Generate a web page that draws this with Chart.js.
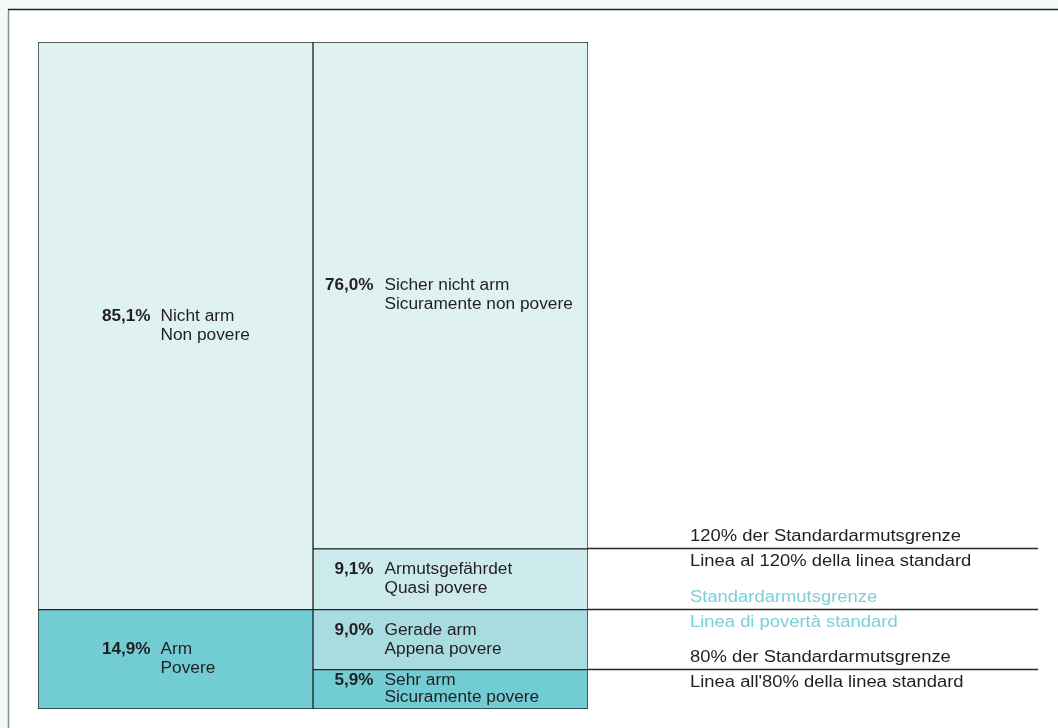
<!DOCTYPE html>
<html>
<head>
<meta charset="utf-8">
<script src="https://cdn.jsdelivr.net/npm/chart.js@4/dist/chart.umd.min.js"></script>
<style>
  html, body { margin: 0; padding: 0; background: #f3f9f9; }
  #wrap { width: 1058px; height: 728px; position: relative; }
</style>
</head>
<body>
<div id="wrap"><canvas id="poverty-chart"></canvas></div>
<script>
// columns: whole population split in two, then in four groups
const columns = ['Gesamt', 'Detail'];

const totalShares = [14.9, 85.1];
const totalLabelsDe = ['Arm', 'Nicht arm'];
const totalLabelsIt = ['Povere', 'Non povere'];

const detailShares = [5.9, 9.0, 9.1, 76.0];
const detailLabelsDe = ['Sehr arm', 'Gerade arm', 'Armutsgefährdet', 'Sicher nicht arm'];
const detailLabelsIt = ['Sicuramente povere', 'Appena povere', 'Quasi povere', 'Sicuramente non povere'];

const lineLabelsDe = ['80% der Standardarmutsgrenze', 'Standardarmutsgrenze', '120% der Standardarmutsgrenze'];
const lineLabelsIt = ["Linea all'80% della linea standard", 'Linea di povertà standard', 'Linea al 120% della linea standard'];

const totalColors = ['#72ccd4', '#dff1f1'];
const detailColors = ['#72ccd4', '#a8dce0', '#cceaec', '#dff1f1'];

const textColor = '#231f20';
const fontFamily = '"Liberation Sans", Arial, Helvetica, sans-serif';

function fmt(v) {
    return v.toFixed(1).replace('.', ',') + '%';
}

// text in the original is a bit wider than Arial, so stretch it sideways
function drawText(ctx, text, x, y, align, sx) {
    ctx.save();
    ctx.translate(x, y);
    ctx.scale(sx, 1);
    ctx.textAlign = align;
    ctx.fillText(text, 0, 0);
    ctx.restore();
}

// one dataset per segment so each block keeps its own label
const datasets = [];
totalShares.forEach((v, i) => {
    datasets.push({
        data: [v, null],
        backgroundColor: totalColors[i],
        de: totalLabelsDe[i],
        it: totalLabelsIt[i],
        lineGap: 19
    });
});
detailShares.forEach((v, i) => {
    datasets.push({
        data: [null, v],
        backgroundColor: detailColors[i],
        de: detailLabelsDe[i],
        it: detailLabelsIt[i],
        lineGap: i === 0 ? 17 : 19
    });
});
datasets.forEach(ds => {
    ds.borderColor = '#262626';
    ds.borderWidth = 1;
    ds.borderSkipped = false;
    ds.categoryPercentage = 1;
    ds.barPercentage = 1;
});

const framePlugin = {
    id: 'frame',
    beforeDraw(chart) {
        const ctx = chart.ctx;
        ctx.save();
        ctx.fillStyle = '#f3f9f9';
        ctx.fillRect(0, 0, chart.width, chart.height);
        ctx.fillStyle = '#ffffff';
        ctx.fillRect(8, 9, chart.width - 8, chart.height - 9);
        ctx.lineWidth = 1.5;
        ctx.strokeStyle = '#8a8a8a';
        ctx.beginPath();
        ctx.moveTo(8.5, chart.height);
        ctx.lineTo(8.5, 9.5);
        ctx.stroke();
        ctx.strokeStyle = '#222222';
        ctx.beginPath();
        ctx.moveTo(8, 9.5);
        ctx.lineTo(chart.width, 9.5);
        ctx.stroke();
        ctx.restore();
    }
};

const labelPlugin = {
    id: 'blockLabels',
    afterDatasetsDraw(chart) {
        const ctx = chart.ctx;
        const y = chart.scales.y;
        const x = chart.scales.x;
        ctx.save();
        ctx.textBaseline = 'middle';
        // labels inside the blocks
        chart.data.datasets.forEach((ds, di) => {
            const meta = chart.getDatasetMeta(di);
            meta.data.forEach((bar, idx) => {
                if (ds.data[idx] == null) return;
                const cy = (bar.y + bar.base) / 2;
                const cx = x.getPixelForValue(idx);
                const numRight = idx === 0 ? cx - 25 : cx - 77;
                const txtLeft = idx === 0 ? cx - 15 : cx - 66;
                const g = ds.lineGap / 2;
                ctx.fillStyle = textColor;
                ctx.font = 'bold 16px ' + fontFamily;
                drawText(ctx, fmt(ds.data[idx]), numRight, cy - g, 'right', 1.07);
                ctx.font = '16px ' + fontFamily;
                drawText(ctx, ds.de, txtLeft, cy - g, 'left', 1.08);
                drawText(ctx, ds.it, txtLeft, cy + g, 'left', 1.08);
            });
        });
        // threshold lines to the right of the detail column
        const right = chart.chartArea.right;
        let sum = 0;
        lineLabelsDe.forEach((de, i) => {
            sum += detailShares[i];
            const py = Math.round(y.getPixelForValue(sum)) - 0.5;
            ctx.strokeStyle = '#262626';
            ctx.lineWidth = 1.5;
            ctx.beginPath();
            ctx.moveTo(right, py);
            ctx.lineTo(1038, py);
            ctx.stroke();
            ctx.fillStyle = i === 1 ? '#7ccfd6' : textColor;
            ctx.font = '16px ' + fontFamily;
            drawText(ctx, de, 690, py - 12, 'left', 1.15);
            drawText(ctx, lineLabelsIt[i], 690, py + 13, 'left', 1.15);
        });
        ctx.restore();
    }
};

new Chart(document.getElementById('poverty-chart').getContext('2d'), {
    type: 'bar',
    data: {
        labels: columns,
        datasets: datasets
    },
    options: {
        responsive: true,
        maintainAspectRatio: false,
        animation: false,
        layout: {
            padding: { left: 38, top: 42, right: 470, bottom: 19 }
        },
        plugins: {
            legend: { display: false },
            tooltip: { enabled: false }
        },
        scales: {
            x: { stacked: true, display: false },
            y: { stacked: true, display: false, min: 0, max: 100 }
        }
    },
    plugins: [framePlugin, labelPlugin]
});
</script>
</body>
</html>
